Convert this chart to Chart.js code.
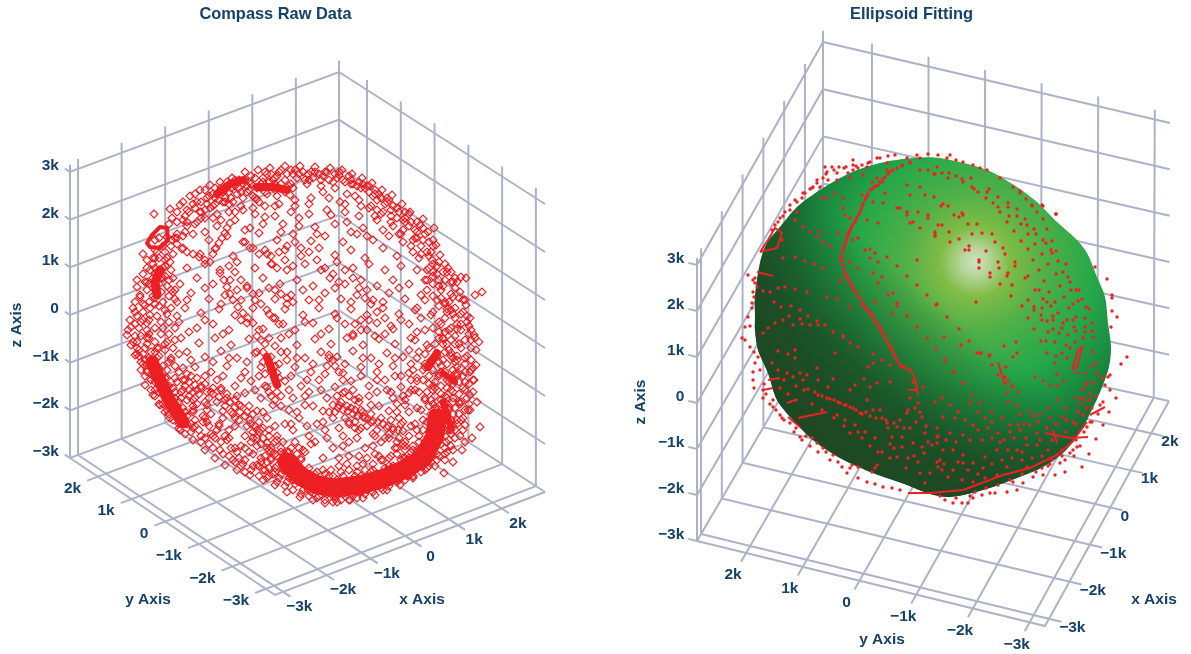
<!DOCTYPE html>
<html>
<head>
<meta charset="utf-8">
<title>Compass Raw Data / Ellipsoid Fitting</title>
<script src="https://cdn.jsdelivr.net/npm/chart.js@4"></script>
<style>
    body { margin: 0; background: #fff; }
    canvas { position: absolute; top: 0; }
    #rawChart { left: 0; }
    #fitChart { left: 632px; }
</style>
</head>
<body>
<canvas id="rawChart" width="551" height="654"></canvas>
<canvas id="fitChart" width="559" height="654"></canvas>
<script>
// Achsen
const xTicks = [-3000, -2000, -1000, 0, 1000, 2000];
const yTicks = [2000, 1000, 0, -1000, -2000, -3000];
const zTicks = [3000, 2000, 1000, 0, -1000, -2000, -3000];
const xTickLabels = ['−3k', '−2k', '−1k', '0', '1k', '2k'];
const yTickLabels = ['2k', '1k', '0', '−1k', '−2k', '−3k'];
const zTickLabels = ['3k', '2k', '1k', '0', '−1k', '−2k', '−3k'];

const rawOuterRing = [-133,112,-125,125,-115,134,-105,140,-95,145,-85,148,-73,152,-60,158,-47,160,-35,162,-20,164,-5,164,10,163,25,162,37,160,47,156,57,152,67,147,77,140,87,135,97,126,105,118,115,105,123,98,131,85,135,75,143,62,150,52,155,38,161,25,165,12,169,-5,171,-20,171,-35,169,-50,165,-65,163,-80,160,-95,-150,90,-155,60,-165,35,-175,10,-178,-5,-170,-25,-160,-55,-145,-75,-125,-100,-100,-120,-80,-135,-55,-145,-30,-155,-5,-167,20,-173,45,-170,70,-165,95,-155,120,-140,140,-130,148,-120,
-151,116,-135,121,-168,43,-177,0,177,38,170,35,161,52,156,53,129,102,118,111,148,-132,175,-97,167,-108,157,-120,139,-143,-172,22,-168,-12,-164,-40,-152,-65,-135,-88,-112,-110,-90,-128,-68,-140,-42,-150,-18,-162,8,-170,32,-172,58,-168,82,-160,108,-148,130,-136,-160,48,-170,28,-174,-15];
const rawMidRing = [-128,108,-118,120,-108,128,-96,134,-82,138,-70,144,-56,148,-42,152,-28,154,-12,156,3,156,18,154,32,152,46,146,60,142,70,136,82,128,92,122,100,112,110,100,118,90,126,78,132,64,140,50,146,36,150,22,156,6,160,-10,162,-26,160,-42,158,-58,155,-74,152,-90,146,-104,-158,70,-150,72,-160,25,-166,2,-166,-20,-158,-35,-150,-60,-138,-80,-122,-92,-100,-108,-85,-120,-66,-128,-48,-135,-30,-142,-12,-150,3,-160,28,-166,55,-162,80,-155,105,-145,126,-128,141,-112,
-140,70,-130,92,-118,104,-104,118,-90,126,-74,132,-58,138,-44,142,-30,146,-14,146,2,146,16,144,30,142,42,136,54,130,66,124,76,116,86,108,96,96,106,84,114,72,122,60,128,46,136,32,142,18,146,2,150,-14,152,-30,152,-46,148,-62,144,-80,-150,40,-155,15,-158,-8,-148,-28,-140,-48,-130,-68,-112,-82,-96,-96,-78,-110,-60,-118,-40,-126,-24,-132,-6,-138,150,-100,142,-122,130,-118,116,-118,100,-128,160,-112,155,-106,165,-80,168,-62,172,-72,160,-52,166,-40,174,-12];
const rawRowsUpper = [-95,122,-80,128,-62,120,-48,131,-30,124,-15,135,4,126,18,138,35,128,50,134,64,122,78,118,-118,108,-104,112,-88,104,-70,110,-55,102,-40,113,-22,106,-6,112,10,103,26,115,42,108,58,102,72,110,88,104,100,108,-128,92,-112,96,-96,90,-78,94,-62,88,-46,97,-28,90,-12,96,6,89,20,94,38,88,52,96,68,90,84,94,98,88,112,92,-140,78,-122,82,-105,76,-90,81,-72,74,-55,82,-38,76,-20,80,-4,74,14,82,30,75,46,80,60,72,78,82,92,74,108,78,124,74,-150,62,-135,68,-118,62,-100,66,-85,60,-68,68,-50,62,-33,66,-18,60,0,66,16,60,32,68,48,62,64,66,80,60,96,64,112,60,128,66,142,58];
const rawRowsMiddle = [-158,48,-142,52,-125,46,-108,52,-92,46,-75,50,-58,44,-42,52,-25,46,-8,50,8,44,25,52,40,46,56,50,72,44,88,50,104,46,120,50,134,44,148,48,-165,33,-148,37,-130,31,-114,37,-96,31,-80,35,-64,30,-46,37,-30,31,-14,35,4,30,20,37,36,31,52,35,68,30,84,37,100,31,116,35,132,30,148,33,160,30,-170,18,-155,22,-138,16,-120,22,-104,17,-86,21,-70,15,-52,22,-36,16,-20,21,-2,15,14,22,30,16,46,21,62,15,78,22,94,16,110,20,126,15,142,21,156,16,-174,3,-158,7,-142,2,-126,8,-108,2,-92,6,-76,0,-58,7,-42,1,-26,6,-10,0,8,7,24,1,40,6,56,0,72,7,88,1,104,6,120,0,136,6,152,1,164,4,-172,-12,-156,-8,-140,-14,-124,-8,-106,-13,-90,-8,-74,-15,-56,-9,-40,-14,-24,-8,-8,-15,10,-9,26,-14,42,-8,58,-15,74,-9,90,-14,106,-8,122,-15,138,-9,154,-14,166,-10];
const rawRowsLower = [-166,-26,-150,-22,-134,-28,-118,-22,-100,-27,-84,-21,-68,-28,-50,-23,-34,-27,-18,-22,0,-28,16,-22,32,-27,48,-21,66,-28,82,-23,98,-27,114,-22,130,-28,146,-23,160,-28,-158,-40,-142,-36,-126,-42,-110,-37,-94,-42,-78,-36,-60,-42,-44,-37,-28,-43,-10,-37,6,-42,22,-36,38,-43,56,-37,72,-42,88,-36,104,-43,120,-37,136,-42,152,-37,-150,-52,-136,-56,-120,-50,-104,-56,-88,-50,-70,-56,-54,-51,-38,-57,-20,-51,-4,-56,14,-50,30,-57,46,-51,64,-56,80,-50,96,-57,112,-51,128,-56,144,-52,-138,-66,-124,-62,-110,-68,-94,-62,-78,-68,-60,-63,-44,-68,-28,-62,-12,-68,4,-62,22,-68,38,-63,54,-68,72,-62,88,-68,104,-63,120,-68,-128,-76,-112,-80,-98,-75,-82,-81,-66,-75,-48,-81,-32,-75,-16,-80,0,-75,18,-81,34,-75,50,-80,66,-75,84,-81,100,-75,116,-80,-114,-94,-100,-88,-86,-94,-70,-88,-54,-94,-38,-88,-20,-94,-6,-88,12,-94,28,-88,44,-94,60,-88,78,-94,94,-88,110,-94,-92,-106,-76,-100,-60,-106,-44,-100,-28,-106,-12,-100,4,-106,20,-100,38,-106,54,-100,70,-106,88,-100,104,-106,-70,-118,-54,-112,-38,-118,-22,-112,-6,-118,10,-112,28,-118,44,-112,60,-118,76,-112,92,-118,-34,-128,-18,-122,-4,-130,62,-128,44,-126,78,-130,108,-120];
const rawBandEdge = [-16,-122,-8,-136,0,-146,10,-144,14,-166,24,-146,30,-169,38,-146,48,-166,52,-142,62,-160,68,-140,78,-160,84,-136,94,-150,98,-128,108,-146,112,-122,122,-138,120,-112,132,-124,128,-100,144,-110,122,-92,146,-90,140,-72,124,-76,128,-60,146,-60,134,-44,150,-44,138,-30,120,-34,152,-26,124,-18,146,-10,140,-2,-150,80,-146,92,-136,106,-162,76,-142,62,-136,50,-150,56,-132,38,-146,24,-128,28,-160,-18,-146,-18,-136,-32,-128,-52,-112,-70,-98,-80,-82,-88,-70,-96,-52,-108,-36,-120,-24,-122];
const rawTopCluster = [-128,118,-120,114,-112,126,-105,118,-98,132,-92,124,-86,138,-80,132,-74,142,-68,136,-62,146,-56,140,-50,152,-44,146,-38,156,-32,150,-26,158,-20,150,-14,160,-8,152,-2,158,4,150,10,158,16,150,22,158,28,148,34,155,40,148,46,150,52,144,58,146,64,138,70,140,76,132,82,132,88,124,94,118,100,118,106,108,112,98,118,102,124,88,128,90,-122,128,-110,136,-100,140,-90,142,-78,148,-66,150,-54,154,-40,158,-24,160,-10,160,6,158,20,158,34,158,44,154,54,148,64,144,74,136,84,130,-90,132,-82,128,-72,128,-62,132,-52,134,-46,128,-38,136,-28,134,-20,138,-10,130,-84,142,-76,138,-66,142,-58,144,-48,142,-36,148,-30,140,-16,144,-120,98,-108,108,-100,112,-92,112];
const rawLeftCluster = [-146,72,-152,66,-146,60,-140,64,-152,52,-146,46,-140,54,-134,60,-158,40,-152,34,-144,38,-138,44,-132,52,-162,26,-156,28,-150,26,-142,28,-136,34,-130,40,-168,14,-162,18,-156,10,-148,14,-140,20,-134,22,-128,14,-170,6,-164,8,-158,0,-150,2,-144,8,-136,8,-130,2,-170,-6,-164,-6,-158,-14,-150,-12,-144,-4,-136,-4,-130,-10,-168,-18,-162,-24,-154,-22,-146,-26,-140,-20,-132,-18,-162,-34,-154,-34,-146,-38,-138,-40,-130,-36,-160,-46,-152,-46,-144,-50,-138,-56,-130,-48,-154,-60,-146,-62,-138,-68,-130,-62,-122,-60,-142,-74,-134,-78,-126,-72,-118,-70,-136,-84,-128,-88,-120,-82,-112,-76,-126,-98,-118,-94,-110,-90,-102,-86,-114,-102,-106,-100,-98,-92,-104,-112,-94,-104,-88,-100,-92,-118,-84,-112,-76,-108,-76,-126,-68,-122,-60,-130,-52,-124,-46,-136,-38,-132,-30,-138,-22,-140,-110,-96,-122,-78,-116,-66,-108,-60,-100,-72];
const rawBottomCluster = [-36,-146,-26,-148,-18,-152,-10,-154,-2,-160,6,-162,14,-160,22,-164,30,-166,38,-164,46,-164,54,-162,62,-158,70,-156,78,-154,86,-150,94,-146,102,-146,110,-140,118,-136,126,-132,134,-126,140,-118,146,-116,-36,-138,-28,-136,-20,-140,-14,-146,-28,-126,-20,-130,-12,-128,-4,-128,4,-138,12,-142,20,-144,28,-146,36,-142,44,-140,52,-136,60,-140,68,-134,76,-130,84,-128,92,-124,100,-120,108,-116,114,-112,126,-108,132,-112,140,-100,148,-96,142,-84,136,-70,150,-78,142,-58,148,-68,156,-72,130,-88,124,-102,118,-100];
const rawRightCluster = [104,116,112,108,120,96,128,84,134,68,138,58,146,48,150,42,154,32,158,18,162,8,164,-4,166,-18,166,-30,165,-42,164,-54,162,-68,160,-80,156,-90,122,40,128,34,134,24,140,28,146,20,150,12,156,0,128,18,134,8,140,12,144,0,150,-6,156,-18,160,-34,128,2,134,-8,138,-14,144,-20,148,-28,156,-38,120,-24,126,-30,132,-26,136,-36,142,-34,148,-40,154,-52,112,-28,118,-40,124,-46,130,-52,136,-56,142,-50,148,-54,154,-64,130,-66,136,-74,142,-78,148,-84,154,-84,158,-100,150,-108,144,-100,136,-94,132,-80,126,-84,118,-90,120,-70,112,-78,104,-82];
const rawChains = [-138,93,-133,90,-128,86,-123,81,-118,78,-112,76,-106,73,-100,70,-95,68,-75,107,-78,102,-80,97,-83,92,-86,87,-89,82,-92,76,-85,57,-81,50,-78,43,-75,36,-72,30,-67,23,-62,17,-57,12,-52,7,-46,0,-122,-50,-116,-52,-110,-55,-104,-58,-98,-62,-92,-64,-86,-67,-80,-70,-75,-72,-70,-77,-65,-82,-60,-86,-55,-90,-50,-96,-46,-102,-42,-108,-38,-113,-34,-118,-30,-124,-26,-128,-120,-56,-112,-62,-106,-64,-96,-68,-88,-72,-80,-76,-72,-84,-66,-90,-58,-96,-52,-102,-48,-108,-44,-114,-36,-106,-28,-110,28,-75,33,-78,38,-80,43,-81,48,-84,53,-86,58,-87,63,-89,68,-91,73,-92,78,-94,83,-96,88,-98,93,-100,98,-101,30,-82,40,-88,50,-92,62,-96,72,-100,84,-104,94,-108,100,-112,40,-62,44,-66,50,-70,54,-72,-38,-27,-36,-33,-34,-40,-31,-47,-28,-55,-42,-32,-30,-36,-40,-44,-26,-48,24,-25,28,-30,30,-36,34,-42,-30,40,-24,36,-18,32,-12,28,-34,66,-28,62,-20,70,-12,64,50,6,56,10,62,0,48,-4,70,-6];
const rawExtraRows = [-134,40,-118,30,-100,42,-84,26,-68,40,-50,30,-36,42,-18,26,-2,40,14,30,30,42,46,28,62,40,78,28,94,42,-116,-2,-100,10,-82,-4,-64,10,-48,-6,-32,12,-16,-4,0,8,16,-4,32,12,48,-6,64,10,80,-4,96,10,112,-2,-114,-30,-92,-32,-76,-28,-58,-32,-42,-22,-26,-34,-8,-28,8,-34,24,-28,40,-34,58,-28,74,-34,90,-28,106,-34,-100,-46,-82,-46,-64,-48,-46,-46,-30,-50,-14,-46,2,-50,20,-44,38,-50,56,-46,72,-50,90,-46,106,-50,-84,-58,-68,-66,-50,-60,-34,-66,-16,-60,0,-66,16,-60,32,-66,48,-60,64,-66,82,-60,98,-66,110,-60,-74,-82,-56,-76,-42,-82,-24,-76,-8,-82,8,-76,24,-82,42,-76,58,-82,74,-76,92,-82,-48,-100,-30,-96,-14,-94,2,-96,18,-92,34,-98,50,-98,66,-92,82,-98,98,-92,-10,-112,6,-114,22,-108,38,-116,52,-108,68,-116,84,-108,100,-116,-14,-136,0,-122,18,-128,34,-128,54,-126,70,-124,86,-126,-60,100,-42,106,-24,98,-6,104,12,96,30,106,46,98,62,94,78,100,94,96,-100,98,-84,110,-70,118,-50,116,-30,114,-14,118,4,116,22,120,40,118,54,114,70,114];
const rawDenseBottom = [-42,-140,-38,-148,-32,-144,-28,-152,-24,-144,-20,-156,-16,-148,-12,-160,-8,-150,-4,-164,0,-154,4,-166,8,-158,12,-168,16,-150,20,-170,24,-156,28,-172,32,-150,36,-170,40,-154,44,-170,48,-150,52,-168,56,-146,60,-164,64,-150,68,-162,72,-144,76,-158,80,-138,84,-156,88,-136,92,-152,96,-130,100,-150,104,-128,108,-146,112,-128,116,-142,120,-116,124,-136,128,-110,132,-130,136,-114,140,-124,136,-96,146,-104,130,-78,144,-78,126,-70,140,-66,-10,-138,-6,-146,2,-150,-20,-134,-14,-140,-44,-132,-34,-130,-52,-136,-62,-134,-60,-142,-70,-132,-46,-146,-4,-138,10,-148,18,-140,26,-140,34,-136,42,-134,50,-146,58,-134,66,-142,74,-126,82,-140,90,-118,98,-114,106,-122,114,-106];
const rawDenseLeft = [-168,-24,-164,-32,-160,-30,-158,-42,-156,-28,-154,-50,-150,-36,-150,-66,-146,-44,-146,-74,-142,-58,-140,-82,-138,-48,-136,-72,-132,-90,-132,-58,-128,-80,-126,-94,-124,-68,-120,-104,-118,-86,-116,-60,-112,-98,-108,-74,-104,-106,-102,-92,-96,-114,-94,-84,-90,-108,-86,-96,-82,-124,-80,-106,-74,-118,-72,-130,-64,-116,-64,-136,-56,-122,-54,-140,-48,-116,-44,-128,-40,-140,-34,-122,-168,50,-162,56,-156,46,-158,62,-152,72,-148,78,-144,52,-138,72,-132,76,-142,84,-134,84,-128,96,-122,94,-150,32,-162,10,-156,-4,-148,-18,-138,-12,-134,-30,-126,-24,-122,-38,-114,-46];
const rawDenseTop = [-122,110,-116,118,-110,122,-104,128,-98,126,-92,136,-86,130,-80,140,-76,126,-70,150,-64,138,-60,150,-54,146,-50,132,-42,148,-40,138,-34,156,-30,152,-24,146,-18,156,-12,142,-6,156,0,150,8,152,14,156,24,150,30,156,38,150,48,146,56,142,62,144,68,134,72,130,80,126,86,120,92,112,98,110,104,104,110,92,116,84,122,78,127,70,132,56,138,44,144,28,148,16,152,6,-110,106,-100,120,-88,116,-76,118,-64,124,-52,122,-40,124,-26,126,-10,124,6,132,24,132,40,126,56,124,72,120,86,114,98,100,108,90,116,76,124,62,128,54,136,40,140,26];
const rawDenseRight = [134,-2,138,-8,142,-14,130,-14,146,-26,150,-32,140,-22,134,-32,128,-40,134,-46,140,-42,146,-48,152,-44,158,-46,160,-60,154,-72,148,-72,142,-68,136,-64,130,-58,124,-54,118,-50,112,-48,106,-60,114,-62,122,-62,128,-74,134,-84,140,-90,146,-100,152,-94,158,-88,164,-74,168,-50,168,-38,170,-8,166,0,162,14,158,30,152,48,146,58,140,66,134,50,128,58,122,50,120,30,116,12,112,22,110,-10,104,-20,108,-40,96,-46,100,-70,92,-74,86,-62];
const rawDenseCurves = [-118,-44,-108,-48,-100,-54,-92,-58,-84,-60,-78,-64,-70,-70,-64,-76,-58,-82,-52,-84,-46,-92,-42,-98,-36,-100,-30,-112,-24,-118,-20,-124,-14,-118,-8,-124,-2,-120,36,-72,46,-78,56,-80,66,-84,76,-88,86,-90,96,-94,106,-96,112,-100,44,-92,56,-98,68,-104,80,-108,92,-112,-60,88,-52,82,-46,76,-40,80,-34,74,-26,78,-18,84,-10,88,-4,82,4,78,12,70,20,62,28,56,34,48,-36,-8,-30,-16,-24,-22,-18,-30,-48,-22,-44,-10,-40,-56,-36,-62,-30,-70,-24,-66,-76,64,-70,58,-64,50,-58,42,-52,36,-44,26,-38,20,-30,12,-22,6,40,60,48,52,54,42,60,32,66,26,72,18,80,12,86,4];
const rawBottomBand = [-18,-132,-5,-146,12,-155,30,-158,55,-155,80,-148,100,-139,118,-128,130,-106,132,-88];
const rawKnot = [-158,87,-153,95,-145,103,-138,102,-137,90,-145,82,-155,83,-158,87];
const rawLeftBandUpper = [-145,60,-150,48,-148,35];
const rawLeftBandLower = [-153,-32,-147,-46,-137,-68,-122,-92];
const rawTopBandA = [-88,136,-75,146,-62,150];
const rawTopBandB = [-48,143,-32,143,-18,140];
const rawBlobCentre = [-38,-27,-33,-40,-28,-55];
const rawBlobRight = [123,-37,132,-23];
const rawRightBandA = [138,-43,150,-52];
const rawRightBandB = [138,-72,146,-98];
const rawBandWidths = [19, 4, 9, 13, 8, 8, 8, 8, 6, 7];

const fitOutline = [-175,11,-175,31,-170,65,-163,85,-150,101,-133,121,-110,138,-80,155,-50,165,-17,170,10,170,57,158,87,141,107,126,127,106,147,88,157,75,167,51,175,31,178,5,181,-19,179,-39,171,-62,157,-92,147,-109,133,-125,113,-139,87,-150,53,-162,20,-169,0,-166,-23,-157,-57,-145,-90,-130,-117,-112,-137,-92,-153,-72,-162,-45,-172,-22,-175,-2,-175,11];
const fitUpperRight = [7,161,4,154,12,155,19,155,18,150,26,152,32,149,33,146,41,150,42,141,44,139,48,136,57,136,59,139,56,130,68,131,90,135,96,129,102,122,113,122,126,114,4,131,11,122,13,124,18,122,63,125,68,121,78,125,78,121,87,119,70,116,24,113,29,111,32,115,33,113,79,112,87,112,95,109,107,116,113,109,77,106,91,104,97,103,38,104,47,104,8,103,12,103,84,97,104,99,117,99,98,94,106,94,5,95,5,92,19,96,42,94,52,95,62,94,113,88,116,85,122,87,91,87,29,89,20,86,65,86,105,84,39,82,35,78,39,78,73,80,56,77,75,74,98,79,121,78,122,75,126,77,112,74,103,68,49,68,49,66,68,66,85,66,85,62,128,67,136,64,118,64,49,60,69,60,109,58,133,56,60,55,78,55,77,52,126,54,98,52,95,50,60,51,138,51,165,61,177,49,114,47,140,46,70,44,82,43,130,42,105,38,109,38,119,36,141,38,146,38,149,38,134,31,81,32,98,28,113,29,152,29,148,27,182,33,182,30,46,26,6,23,125,26,117,26,143,24,121,22,92,22,104,21,112,20,139,20,156,21,159,19,182,17,104,18,128,15,17,11,98,10,111,13,123,12,146,11,155,10,187,11,112,8,117,7,123,8,137,8,143,8,162,5,133,5,104,-1,123,-1,132,0,118,-4,144,1,155,1,181,1,29,-1,162,-3,129,-5,138,-7,146,-3,155,-4,163,-9,14,-9,39,-13,86,-14,111,-13,116,-13,125,-14,145,-14,153,-10,31,-17,74,-18,6,-21,136,-17,140,-20,117,-25,132,-25,126,-28,47,-25,51,-25,59,-28,83,-29,87,-25,162,-24,137,-30,197,-29,166,-35,125,-35,15,-33,62,-37,76,-39,162,-38,191,-36,24,-44,127,-46,68,-47,73,-49,167,-45,180,-47,105,-49,172,-50,113,-53,33,-55,133,-53,120,-57,127,-58,75,-55,78,-53,82,-58,163,-55,156,-57];
const fitUpperLeft = [-77,168,-77,163,-77,158,-105,161,-98,161,-91,161,-84,161,-68,163,-62,165,-53,170,-42,172,-35,173,-23,170,-13,173,-2,174,8,173,-103,156,-93,155,-82,155,-72,160,-63,161,-43,165,-20,166,-10,170,-107,150,-113,145,-118,140,-125,135,-133,126,-140,123,-145,116,-150,110,-155,103,-135,128,-128,130,-117,141,-110,141,-102,148,-93,148,-80,150,-67,153,-53,150,-43,158,-28,163,-10,158,-2,158,5,154,-95,135,-103,130,-108,130,-87,130,-68,133,-58,146,-48,146,-57,126,-45,135,-47,125,-23,143,-20,133,-5,133,-10,141,-87,120,-85,113,-80,110,-135,108,-133,116,-33,120,-30,120,-23,116,-12,116,-2,113,-20,105,-17,106,-52,105,-63,108,-23,113,-10,100,5,96,5,92,-2,110,-127,101,-120,96,-110,97,-92,95,-148,88,-113,91,-107,86,-100,82,-82,93,-77,88,-72,90,-65,78,-60,79,-60,70,-55,75,-43,71,-52,66,-80,66,-135,71,-125,67,-116,64,-147,70,-107,60,-72,60,-57,55,-48,51,-33,62,-13,68,-23,52,-90,47,-83,51,-52,45,-37,35,-42,33,-13,43,-3,33,-33,25,-33,22,7,24,-55,26,-80,21,-135,39,-123,36,-145,41,-152,40,-167,37,-103,31,-93,29,-160,36,-156,26,-149,21,-139,22,-130,18,-122,12,-113,7,-105,3,-97,-4,-141,12,-130,9,-147,8,-155,5,-162,0,-167,-5,-137,3,-128,4,-120,3,-112,3,-87,-8,-38,15,-23,12,-13,1,-3,-10,-58,13];
const fitMeridian = [-20,165,-28,162,-33,160,-37,158,-40,156,-42,154,-45,151,-47,149,-50,146,-52,143,-54,142,-56,141,-58,139,-60,138,-62,134,-63,132,-64,130,-65,128,-67,124,-68,122,-69,119,-70,116,-71,114,-73,111,-74,108,-75,106,-77,104,-78,102,-79,100,-80,98,-81,96,-82,94,-83,92,-83,90,-84,87,-85,84,-86,81,-87,78,-88,75,-89,71,-89,69,-88,67,-87,63,-86,59,-85,55,-84,52,-83,50,-81,47,-80,45,-78,42,-77,40,-75,37,-73,35,-71,31,-70,29,-68,25,-67,23,-65,21,-64,19,-62,17,-60,15,-58,12,-57,10,-55,7,-53,5,-51,2,-50,0,-49,-2,-48,-4,-46,-7,-45,-10,-43,-13,-42,-15,-40,-18,-39,-20,-38,-22,-37,-25,-35,-28,-34,-31,-32,-34,-30,-37,-28,-38,-25,-40];
const fitLowerLeft = [-152,-23,-135,-22,-142,-26,-135,-30,-113,-40,-158,-35,-152,-42,-143,-45,-137,-49,-130,-45,-123,-47,-127,-52,-122,-61,-112,-52,-97,-51,-115,-64,-102,-59,-80,-62,-75,-57,-66,-51,-57,-35,-48,-32,-57,-26,-72,-19,-80,-15,-95,-25,-87,-9,-62,-39,-40,-37,-40,-54,-53,-55,-60,-59,-103,-70,-90,-75,-77,-80,-70,-85,-63,-72,-57,-82,-50,-82,-33,-99,-43,-95,-42,-100,-22,-82,-23,-85,-75,-97,-93,-87,-85,-92,-80,-105,-68,-110,-65,-104,-55,-110,-38,-109,-28,-109,-20,-100,-17,-115,-8,-119,-28,-119,-33,-129,-40,-130,-53,-137,-55,-140,-22,-130,-12,-134,-10,-145,0,-145,-5,-155,7,-134,-20,-70,-15,-80,-8,-89,-5,-105,-2,-114,7,-115,7,-109,8,-139,-17,-54,-7,-59,-12,-75,-10,-84,-112,-67,-96,-72,-84,-77,-64,-84,-48,-90,-108,-68,-100,-71,-92,-74,-86,-77,-80,-79,-74,-82,-68,-86,-60,-88,-54,-90,-44,-92,-36,-95,-30,-92,-126,-62,-134,-58,-146,-52,-150,-60,-142,-66,-134,-72,-118,-76,-108,-82,-96,-90,-86,-98,-72,-104,-60,-118,-48,-124,-36,-120,-26,-100,-14,-94,-4,-98,-6,-125,-16,-128,-24,-140,-40,-116,-52,-124];
const fitLowerRight = [15,-32,50,-25,60,-27,23,-44,75,-49,82,-59,88,-64,77,-65,78,-74,87,-77,33,-55,42,-67,5,-74,12,-70,20,-77,28,-84,40,-75,50,-75,13,-89,25,-90,35,-92,43,-97,55,-90,62,-94,72,-90,80,-97,88,-97,100,-97,108,-94,120,-90,132,-89,143,-94,153,-87,7,-100,20,-105,33,-107,48,-102,58,-100,68,-105,80,-104,90,-102,107,-105,117,-100,2,-117,13,-122,23,-122,33,-127,43,-135,55,-129,67,-122,78,-122,87,-122,97,-117,107,-117,118,-122,127,-127,10,-132,23,-142,33,-135,53,-140,77,-139,92,-132,102,-130,12,-142,18,-149,32,-152,43,-154,55,-150,67,-147,97,-139,147,-45,155,-45,157,-55,153,-62,155,-72,173,-74,170,-77,178,-49,175,-57,160,-66,150,-76,136,-80,128,-72,118,-80,110,-86,100,-84,90,-86,62,-84,48,-84,8,-108,16,-112,26,-114,40,-112,52,-112,62,-110,74,-112,84,-110,96,-110,110,-112,122,-112,136,-104,146,-96,14,-136,28,-134,38,-142,48,-146,62,-136,72,-132,82,-130,92,-124,112,-128,122,-132,132,-122,70,-114,94,-96,104,-88,126,-96,136,-92,148,-84,156,-80,160,-72,166,-68,162,-80,152,-70,146,-70];
const fitRim = [-127,135,-140,118,-147,112,-152,106,-158,98,-120,139,-113,148,-104,154,-96,158,-86,160,-74,162,-60,166,-50,170,20,173,17,170,26,168,33,166,43,163,50,160,57,158,70,150,83,141,90,137,102,123,112,123,126,114,-182,53,-175,50,-177,48,-173,41,-177,36,-178,25,-178,20,-182,11,-185,1,-180,2,-175,45,-176,31,-188,-10,-185,-12,-180,-19,-176,-24,-172,-29,-175,-35,-170,-42,-177,-44,-177,-52,-176,-60,-167,-62,-167,-70,-157,-72,-157,-79,-150,-87,-140,-95,-130,-109,-118,-110,-113,-115,-107,-120,-97,-127,-92,-134,-83,-145,-88,-139,-72,-150,-63,-154,-55,-156,-47,-159,-38,-160,-30,-162,-78,-137,-72,-139,-58,-144,-148,-90,-134,-100,-124,-108,-104,-124,-80,-140,83,-154,93,-155,77,-164,87,-162,65,-165,60,-165,103,-149,113,-147,125,-147,135,-144,135,-132,152,-139,159,-126,166,-111,173,-97,179,-84,186,-70,143,-122,140,-125,147,-119,157,-99,15,-172,23,-175,32,-175,38,-175,43,-170,45,-164,52,-167,112,-140,118,-138,130,-135,144,-128,150,-118,180,-62,168,-86,162,-94,-166,-56,-164,-66,-160,-76,-154,-82,-146,-92,-136,-104,-128,-112,-120,-118,-112,-124,-100,-132,10,-168,26,-170,40,-168,56,-160,68,-157,80,-152,92,-146,106,-144,120,-136,132,-128,146,-112,154,-104,160,-94];
const fitStrokeKnot = [-170,76,-153,80,-148,95,-155,100,-162,88,-170,76];
const fitStrokeLeftA = [-173,56,-157,52];
const fitStrokeLeftB = [-162,-52,-150,-50];
const fitStrokeLeftC = [-167,-62,-157,-60];
const fitStrokeLeftD = [-143,-75,-135,-72];
const fitStrokeLeftE = [-132,-90,-103,-84];
const fitStrokeLeftF = [-142,-89,-130,-99];
const fitStrokeCentreA = [-30,-37,-20,-42,-15,-50,-12,-67];
const fitStrokeCentreB = [-22,-62,-12,-62];
const fitStrokeBottom = [-22,-165,0,-165,33,-162,73,-147,100,-140,127,-127,142,-114,157,-94];
const fitStrokeLoop = [142,-42,148,-22,152,-19,147,-39,142,-42];
const fitStrokeMid = [68,-34,75,-57];
const fitStrokeCrossA = [115,-105,140,-110];
const fitStrokeCrossB = [123,-102,127,-115];
const fitStrokeCrossC = [140,-110,158,-109];
const fitStrokeCrossD = [160,-87,175,-79];

const navy = '#15426d';
const gridColor = '#aeb2c8';
const red = '#ed2024';
const labelFont = 'bold 15.5px "Liberation Sans", Arial, sans-serif';

function toPoints(flat) {
    const points = [];
    for (let i = 0; i < flat.length; i += 2) {
        points.push({ x: flat[i], y: flat[i + 1] });
    }
    return points;
}

// Projektion vom Achsenraum in die Bildebene
function makeProjection(view) {
    const { A, B, C, D, topA, topB, topC } = view;
    const rise = [topA[0] - A[0], topA[1] - A[1], topB[0] - B[0], topB[1] - B[1], topC[0] - C[0], topC[1] - C[1]];
    return function (a, b, c) {
        const mix = (i) => (1 - a) * (1 - b) * A[i] + a * (1 - b) * B[i] + a * b * C[i] + (1 - a) * b * D[i];
        const up = (i) => (1 - a) * (1 - b) * rise[i] + a * (1 - b) * rise[2 + i] + a * b * rise[4 + i] + (1 - a) * b * rise[i];
        return { x: mix(0) + c * up(0), y: mix(1) + c * up(1) };
    };
}

function boxLines(view) {
    const p = makeProjection(view);
    const ax = (t) => (t - view.xMin) / (view.xMax - view.xMin);
    const by = (t) => (view.yMax - t) / (view.yMax - view.yMin);
    const cz = (t) => (t + 3000) / 6000;
    const lines = [];

    // Boden
    xTicks.forEach(t => lines.push([p(ax(t), 0, 0), p(ax(t), 1.035, 0)]));
    yTicks.forEach(t => lines.push([p(-0.04, by(t), 0), p(1, by(t), 0)]));
    lines.push([p(0, 0, 0), p(0, 1, 0), p(1, 1, 0)]);

    // Waende
    zTicks.forEach(t => lines.push([p(0, -0.025, cz(t)), p(0, 0, cz(t)), p(1, 0, cz(t)), p(1, 1, cz(t))]));
    xTicks.forEach(t => lines.push([p(ax(t), 0, 0), p(ax(t), 0, 1.035)]));
    yTicks.forEach(t => lines.push([p(1, by(t), 0), p(1, by(t), 1.035)]));
    lines.push([p(0, 0, 0), p(0, 0, 1.025)]);
    lines.push([p(1, 0, 0), p(1, 0, 1.04)]);

    return lines.map(line => ({
        data: line,
        showLine: true,
        pointRadius: 0,
        borderColor: gridColor,
        borderWidth: 2,
        order: 5
    }));
}

function tickTexts(view) {
    const p = makeProjection(view);
    const texts = [];
    xTicks.forEach((t, i) => {
        const end = p((t - view.xMin) / (view.xMax - view.xMin), 1.035, 0);
        texts.push({ x: end.x + view.xLabel[0], y: end.y + view.xLabel[1], text: xTickLabels[i], align: view.xLabel[2] });
    });
    yTicks.forEach((t, i) => {
        const end = p(-0.04, (view.yMax - t) / (view.yMax - view.yMin), 0);
        texts.push({ x: end.x + view.yLabel[0], y: end.y + view.yLabel[1], text: yTickLabels[i], align: view.yLabel[2] });
    });
    zTicks.forEach((t, i) => {
        const end = p(0, -0.025, (t + 3000) / 6000);
        texts.push({ x: end.x + view.zLabel[0], y: end.y + view.zLabel[1], text: zTickLabels[i], align: 'right' });
    });
    return texts.concat(view.axisTitles);
}

// Beschriftungen im Diagramm
const textPlugin = {
    id: 'boxTexts',
    afterDatasetsDraw(chart, args, options) {
        const { ctx, scales } = chart;
        ctx.save();
        ctx.font = labelFont;
        ctx.fillStyle = navy;
        ctx.textBaseline = 'middle';
        options.items.forEach(item => {
            const px = scales.x.getPixelForValue(item.x);
            const py = scales.y.getPixelForValue(item.y);
            ctx.save();
            ctx.translate(px, py);
            if (item.rotate) ctx.rotate(item.rotate);
            ctx.textAlign = item.align || 'center';
            ctx.fillText(item.text, 0, 0);
            ctx.restore();
        });
        ctx.restore();
    }
};

function makeChart(id, titleText, view, datasets) {
    return new Chart(document.getElementById(id), {
        type: 'scatter',
        data: { datasets: datasets.concat(boxLines(view)) },
        options: {
            responsive: false,
            animation: false,
            events: [],
            layout: { padding: 0, autoPadding: false },
            scales: {
                x: { type: 'linear', display: false, min: view.range[0], max: view.range[1] },
                y: { type: 'linear', display: false, min: view.range[2], max: view.range[3] }
            },
            plugins: {
                legend: { display: false },
                tooltip: { enabled: false },
                title: {
                    display: true,
                    text: titleText,
                    color: navy,
                    font: { family: '"Liberation Sans", Arial, sans-serif', size: 16.4, weight: 'bold' },
                    padding: { top: 5, bottom: 5.32 }
                },
                boxTexts: { items: tickTexts(view) }
            }
        },
        plugins: [textPlugin]
    });
}

const rawView = {
    range: [-305, 246, -324, 300],
    A: [-235, -128], B: [34, -28], C: [240, -162], D: [-30, -265],
    topA: [-235, 158], topB: [34, 258], topC: [240, 126],
    xMin: -3185, xMax: 2990, yMin: -3270, yMax: 2830,
    xLabel: [9, -10, 'center'], yLabel: [-6, -8, 'right'], zLabel: [-6, 3, 'right'],
    axisTitles: [
        { x: -157, y: -270, text: 'y Axis' },
        { x: 117, y: -270, text: 'x Axis' },
        { x: -288, y: 5, text: 'z Axis', rotate: -Math.PI / 2 }
    ]
};

const fitView = {
    range: [-298, 261, -326, 298],
    A: [-233, -213], B: [-107, 3], C: [239, -73], D: [115, -298],
    topA: [-233, 63], topB: [-107, 286], topC: [240, 205],
    xMin: -3195, xMax: 2870, yMin: -3270, yMax: 2865,
    xLabel: [-2, -6, 'left'], yLabel: [-8, -13, 'center'], zLabel: [-4, 4, 'right'],
    axisTitles: [
        { x: -48, y: -312, text: 'y Axis' },
        { x: 224, y: -272, text: 'x Axis' },
        { x: -289, y: -74, text: 'z Axis', rotate: -Math.PI / 2 }
    ]
};

// Linke Seite
const rawBands = [rawBottomBand, rawKnot, rawLeftBandUpper, rawLeftBandLower, rawTopBandA, rawTopBandB, rawBlobCentre, rawBlobRight, rawRightBandA, rawRightBandB];
const rawSets = [rawOuterRing, rawMidRing, rawRowsUpper, rawRowsMiddle, rawRowsLower, rawBandEdge, rawTopCluster, rawLeftCluster, rawBottomCluster, rawRightCluster, rawChains, rawExtraRows, rawDenseBottom, rawDenseLeft, rawDenseTop, rawDenseRight, rawDenseCurves];

const rawDatasets = rawSets.map(set => ({
    data: toPoints(set),
    pointStyle: 'rectRot',
    pointRadius: 4,
    pointBorderWidth: 1.1,
    pointBorderColor: red,
    pointBackgroundColor: 'rgba(255,255,255,0)',
    clip: false,
    order: 2
})).concat(rawBands.map((band, i) => ({
    data: toPoints(band),
    showLine: true,
    pointRadius: 0,
    borderColor: red,
    borderWidth: rawBandWidths[i],
    borderCapStyle: 'round',
    borderJoinStyle: 'round',
    order: 3
})));

makeChart('rawChart', 'Compass Raw Data', rawView, rawDatasets);

// Rechte Seite
function surfaceFill(context) {
    const chart = context.chart;
    if (!chart.chartArea) return '#1ea84a';
    const cx = chart.scales.x.getPixelForValue(45);
    const cy = chart.scales.y.getPixelForValue(66);
    const g = chart.ctx.createRadialGradient(cx, cy, 0, cx, cy, 270);
    g.addColorStop(0, '#cfe2c4');
    g.addColorStop(0.05, '#b6d69a');
    g.addColorStop(0.13, '#80bc46');
    g.addColorStop(0.26, '#4fb048');
    g.addColorStop(0.44, '#26a84a');
    g.addColorStop(0.6, '#198a40');
    g.addColorStop(0.74, '#1a6631');
    g.addColorStop(0.87, '#1e5027');
    g.addColorStop(1, '#1f4a22');
    return g;
}

// dunkle Seite unten links
function surfaceShade(context) {
    const chart = context.chart;
    if (!chart.chartArea) return 'rgba(0,0,0,0)';
    const s = chart.scales;
    const g = chart.ctx.createLinearGradient(s.x.getPixelForValue(120), s.y.getPixelForValue(128), s.x.getPixelForValue(-110), s.y.getPixelForValue(-142));
    g.addColorStop(0, 'rgba(28,70,34,0)');
    g.addColorStop(0.42, 'rgba(28,70,34,0)');
    g.addColorStop(0.72, 'rgba(28,70,34,0.75)');
    g.addColorStop(1, 'rgba(30,72,34,0.95)');
    return g;
}

const fitDots = [fitUpperRight, fitUpperLeft, fitMeridian, fitLowerLeft, fitLowerRight, fitRim];
const fitStrokes = [fitStrokeKnot, fitStrokeLeftA, fitStrokeLeftB, fitStrokeLeftC, fitStrokeLeftD, fitStrokeLeftE, fitStrokeLeftF, fitStrokeCentreA, fitStrokeCentreB, fitStrokeBottom, fitStrokeLoop, fitStrokeMid, fitStrokeCrossA, fitStrokeCrossB, fitStrokeCrossC, fitStrokeCrossD];

const fitDatasets = fitDots.map(set => ({
    data: toPoints(set),
    pointStyle: 'circle',
    pointRadius: 1.7,
    pointBorderWidth: 0,
    pointBackgroundColor: red,
    clip: false,
    order: 1
})).concat(fitStrokes.map(stroke => ({
    data: toPoints(stroke),
    showLine: true,
    pointRadius: 0,
    borderColor: red,
    borderWidth: 2,
    order: 2
}))).concat([surfaceShade, surfaceFill].map((fillStyle, i) => ({
    data: toPoints(fitOutline),
    showLine: true,
    tension: 0.3,
    fill: 'shape',
    pointRadius: 0,
    borderWidth: 0,
    borderColor: 'rgba(0,0,0,0)',
    backgroundColor: fillStyle,
    order: 3 + i * 0.5
})));

makeChart('fitChart', 'Ellipsoid Fitting', fitView, fitDatasets);
</script>
</body>
</html>
